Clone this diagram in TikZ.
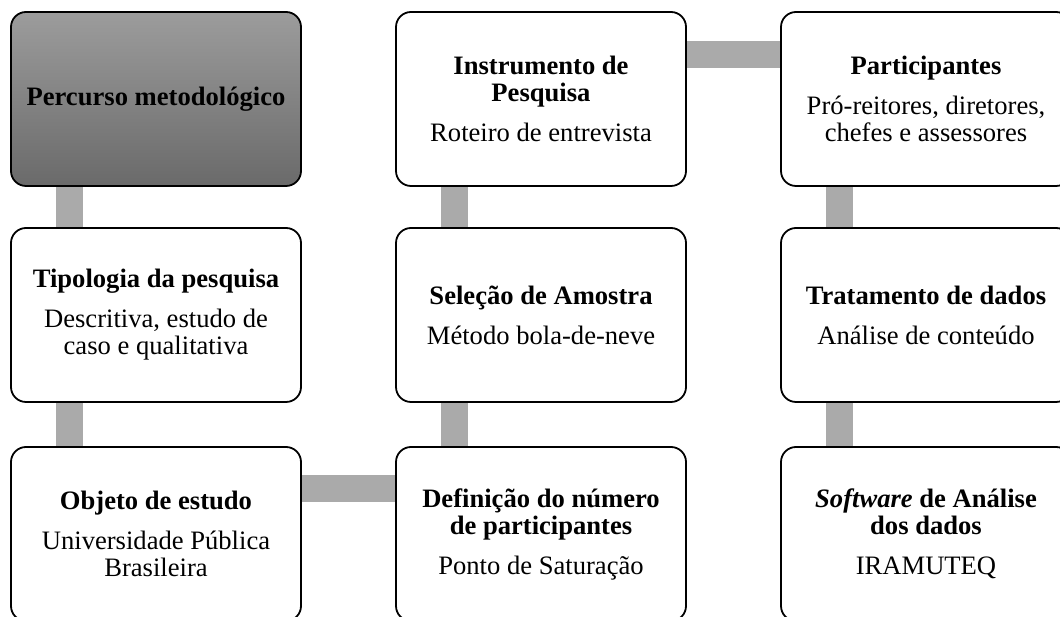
\documentclass[tikz,border=0pt]{standalone}
\usepackage{fontspec}
\setmainfont{Liberation Serif}
\usetikzlibrary{backgrounds}
\begin{document}
\begin{tikzpicture}[x=1pt,y=1pt,
  box/.style={draw=black, line width=1.8pt, rounded corners=15pt, fill=white,
    minimum width=290pt, minimum height=174pt, inner sep=0pt, align=center,
    font=\fontsize{26.6}{27}\selectfont},
  titlebox/.style={box, top color={rgb,255:red,156;green,156;blue,156},
    bottom color={rgb,255:red,106;green,106;blue,106}},
  conn/.style={draw={rgb,255:red,170;green,170;blue,170}, line width=27pt}]
\useasboundingbox (0,0) rectangle (1060,617);
% column 1
\node[titlebox] (b11) at (156,518) {\textbf{Percurso metodológico}};
\node[box] (b21) at (156,302) {\textbf{Tipologia da pesquisa}\\[13pt]Descritiva, estudo de\\caso e qualitativa};
\node[box] (b31) at (156,83) {\textbf{Objeto de estudo}\\[13pt]Universidade Pública\\Brasileira};
% column 2
\node[box] (b12) at (541,518) {\textbf{Instrumento de}\\\textbf{Pesquisa}\\[13pt]Roteiro de entrevista};
\node[box] (b22) at (541,302) {\textbf{Seleção de Amostra}\\[13pt]Método bola-de-neve};
\node[box] (b32) at (541,83) {\textbf{Definição do número}\\\textbf{de participantes}\\[13pt]Ponto de Saturação};
% column 3
\node[box] (b13) at (926,518) {\textbf{Participantes}\\[13pt]Pró-reitores, diretores,\\chefes e assessores};
\node[box] (b23) at (926,302) {\textbf{Tratamento de dados}\\[13pt]Análise de conteúdo};
\node[box] (b33) at (926,83) {\textbf{\textit{Software} de Análise}\\\textbf{dos dados}\\[13pt]IRAMUTEQ};
% connectors
\begin{scope}[on background layer]
\draw[conn] ([xshift=59.5pt]b11.south west) -- ([xshift=59.5pt]b21.north west);
\draw[conn] ([xshift=59.5pt]b21.south west) -- ([xshift=59.5pt]b31.north west);
\draw[conn] ([yshift=-42.5pt]b31.north east) -- ([yshift=-42.5pt]b32.north west);
\draw[conn] ([xshift=59pt]b32.north west) -- ([xshift=59pt]b22.south west);
\draw[conn] ([xshift=59pt]b22.north west) -- ([xshift=59pt]b12.south west);
\draw[conn] ([yshift=-43.5pt]b12.north east) -- ([yshift=-43.5pt]b13.north west);
\draw[conn] ([xshift=59.5pt]b13.south west) -- ([xshift=59.5pt]b23.north west);
\draw[conn] ([xshift=59.5pt]b23.south west) -- ([xshift=59.5pt]b33.north west);
\end{scope}
\end{tikzpicture}
\end{document}
